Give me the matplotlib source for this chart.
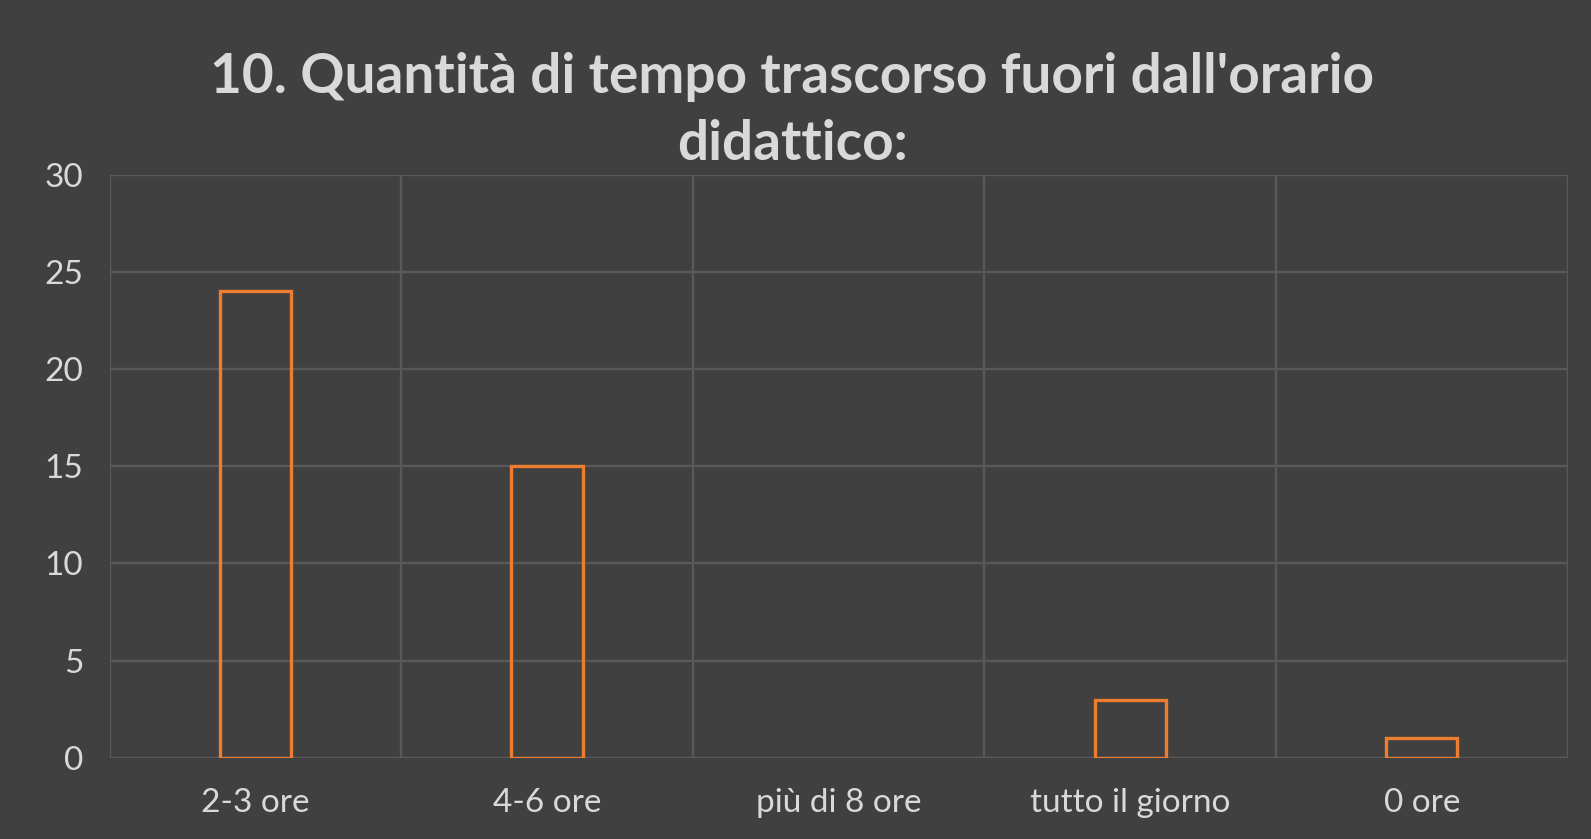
import matplotlib.pyplot as plt
import numpy as np

categorie = ['2-3 ore', '4-6 ore', 'più di 8 ore', 'tutto il giorno', '0 ore']
valori = [24, 15, 0, 3, 1]
titolo = "10. Quantità di tempo trascorso fuori dall'orario\ndidattico:"

bg = '#404040'
griglia = '#595959'
testo = '#d9d9d9'
arancio = '#ED7D31'

plt.rcParams['font.family'] = ['Lato', 'DejaVu Sans']

fig = plt.figure(figsize=(15.91, 8.39), dpi=100, facecolor=bg)
ax = fig.add_axes([0.0689, 0.0967, 0.9164, 0.6953], facecolor=bg)

x = np.arange(len(categorie))
barre = ax.bar(x, valori, width=0.244, facecolor='none', edgecolor=arancio, linewidth=2.4, zorder=3)
# le barre a zero non si vedono nell'originale
for b, v in zip(barre, valori):
    if v == 0:
        b.set_visible(False)

ax.set_xlim(-0.5, len(categorie) - 0.5)
ax.set_ylim(0, 30)
ax.set_yticks(range(0, 31, 5))
ax.set_xticks(x)
ax.set_xticklabels(categorie)
ax.set_xticks(np.arange(-0.5, len(categorie), 1), minor=True)

ax.grid(axis='y', which='major', color=griglia, linewidth=1.7, zorder=0)
ax.grid(axis='x', which='minor', color=griglia, linewidth=1.7, zorder=0)
ax.tick_params(axis='both', which='both', length=0, colors=testo, labelsize=24)
ax.tick_params(axis='x', pad=22)
ax.tick_params(axis='y', pad=19)
for s in ax.spines.values():
    s.set_visible(False)

fig.text(0.498, 0.868, titolo, ha='center', va='center', color=testo,
         fontsize=39.5, fontweight='bold', linespacing=1.42)

fig.savefig('out.png', dpi=100, facecolor=bg)
